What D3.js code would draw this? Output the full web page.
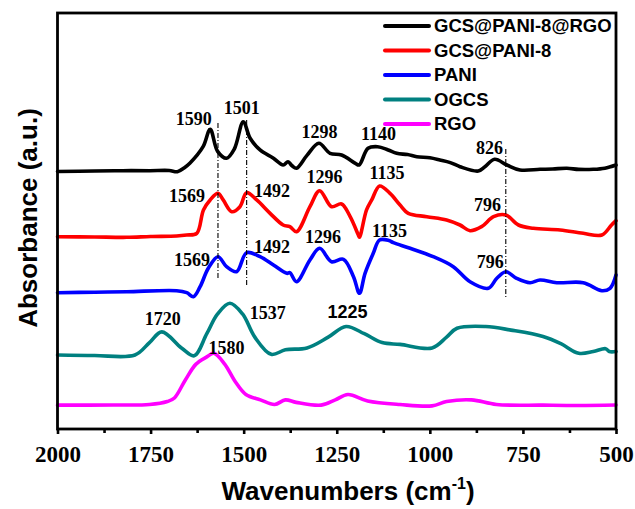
<!DOCTYPE html>
<html>
<head>
<meta charset="utf-8">
<script src="https://cdn.jsdelivr.net/npm/d3@7/dist/d3.min.js"></script>
<style>
  html, body { margin: 0; padding: 0; background: #fff; }
  svg { display: block; }
</style>
</head>
<body>
<svg id="chart" width="635" height="509"></svg>
<script>
// FTIR spectra, stacked with vertical offsets (absorbance in arbitrary units)
const seriesNames = ["GCS@PANI-8@RGO", "GCS@PANI-8", "PANI", "OGCS", "RGO"];
const seriesColors = ["#000000", "#ff0000", "#0000ff", "#008080", "#ff00ff"];

// [wavenumber (cm-1), absorbance (a.u.)]
const gcsPaniRgo = [
  [2000,3.219],[1900,3.225],[1825,3.229],[1752,3.229],[1700,3.231],[1678,3.216],[1660,3.263],
  [1644,3.325],[1609,3.529],[1590,3.746],[1570,3.47],[1546,3.384],[1525,3.5],[1501,3.841],
  [1483,3.638],[1456,3.488],[1421,3.388],[1394,3.3],[1381,3.341],[1370,3.29],[1358,3.259],
  [1330,3.42],[1298,3.571],[1268,3.446],[1237,3.425],[1200,3.321],[1190,3.3],[1166,3.509],
  [1140,3.529],[1112,3.488],[1089,3.446],[1060,3.43],[1035,3.404],[1000,3.39],[973,3.363],
  [945,3.33],[919,3.279],[870,3.225],[852,3.279],[826,3.371],[793,3.3],[758,3.238],
  [704,3.246],[670,3.25],[632,3.259],[600,3.245],[561,3.246],[530,3.26],[500,3.3]
];
const gcsPani = [
  [2000,2.404],[1900,2.4],[1814,2.396],[1750,2.406],[1680,2.413],[1653,2.425],[1626,2.446],
  [1608,2.738],[1590,2.863],[1569,2.946],[1555,2.863],[1532,2.716],[1510,2.779],[1492,2.954],
  [1465,2.863],[1429,2.696],[1394,2.55],[1376,2.529],[1358,2.466],[1322,2.779],[1296,2.979],
  [1264,2.779],[1237,2.813],[1214,2.654],[1192,2.425],[1189,2.396],[1170,2.738],[1156,2.863],
  [1135,3.038],[1107,2.946],[1080,2.8],[1058,2.696],[1008,2.654],[955,2.613],[919,2.55],
  [892,2.479],[861,2.529],[829,2.654],[796,2.675],[762,2.55],[722,2.509],[650,2.488],
  [588,2.446],[538,2.425],[512,2.55],[500,2.604]
];
const pani = [
  [2000,1.704],[1900,1.71],[1814,1.716],[1680,1.729],[1653,1.704],[1635,1.654],[1617,1.779],
  [1595,2.009],[1569,2.154],[1546,2.029],[1519,1.966],[1492,2.204],[1456,2.154],[1420,2.05],
  [1384,1.946],[1376,1.954],[1358,1.841],[1322,2.113],[1296,2.259],[1264,2.091],[1232,2.121],
  [1205,1.904],[1189,1.696],[1174,1.946],[1152,2.196],[1135,2.363],[1110,2.356],[1098,2.329],
  [1053,2.259],[991,2.154],[937,2.029],[892,1.841],[843,1.759],[820,1.884],[796,1.966],
  [767,1.884],[731,1.829],[704,1.863],[659,1.829],[588,1.829],[538,1.729],[516,1.759],[500,1.925]
];
const ogcs = [
  [2000,0.925],[1900,0.919],[1792,0.925],[1753,1.08],[1720,1.214],[1667,1.013],[1633,0.915],
  [1599,1.191],[1570,1.438],[1537,1.571],[1503,1.438],[1470,1.148],[1426,0.933],[1388,0.99],
  [1330,1.013],[1273,1.148],[1225,1.281],[1176,1.191],[1128,1.08],[1080,1.058],[994,1.013],
  [955,1.148],[927,1.259],[850,1.281],[782,1.236],[696,1.156],[648,1.066],[600,0.946],
  [561,0.968],[528,1.004],[518,0.968],[500,0.968]
];
const rgo = [
  [2000,0.298],[1850,0.3],[1753,0.306],[1705,0.343],[1686,0.388],[1657,0.61],[1628,0.811],
  [1599,0.901],[1580,0.946],[1551,0.811],[1522,0.588],[1494,0.431],[1455,0.364],[1417,0.306],
  [1388,0.364],[1359,0.333],[1292,0.298],[1254,0.364],[1220,0.431],[1167,0.351],[1080,0.306],
  [994,0.289],[955,0.343],[888,0.364],[821,0.306],[696,0.298],[600,0.294],[500,0.3]
];
const seriesValues = [gcsPaniRgo, gcsPani, pani, ogcs, rgo];

// Peak annotations: [text, wavenumber at text centre, absorbance at baseline, font]
const peakLabels = [
  ["1590",1634,3.8,"serif"],["1501",1505,3.9375,"serif"],["1298",1296,3.634,"serif"],
  ["1140",1138,3.6125,"serif"],["826",840,3.434,"serif"],
  ["1569",1652,2.841,"serif"],["1492",1424,2.9,"serif"],["1296",1283,3.079,"serif"],
  ["1135",1115,3.125,"serif"],["796",845,2.729,"serif"],
  ["1569",1639,2.041,"serif"],["1492",1424,2.2,"serif"],["1296",1287,2.321,"serif"],
  ["1135",1108,2.404,"serif"],["796",838,2.009,"serif"],
  ["1720",1717,1.304,"serif"],["1537",1435,1.37,"serif"],["1225",1221,1.3925,"sans"],
  ["1580",1546,0.9325,"serif"]
];

// Guide lines through shifted bands: [wavenumber, top absorbance, bottom absorbance]
const guideLines = [[1569,3.825,1.8625],[1492,3.8625,1.8],[796,3.5,1.65]];

const xTicks = [2000,1750,1500,1250,1000,750,500];
const xMinorTicks = [1875,1625,1375,1125,875,625];

const svg = d3.select("#chart");
const plotLeft = 57.5, plotRight = 616, plotTop = 13, plotBottom = 429;

const x = d3.scaleLinear().domain([2000, 500]).range([plotLeft, plotRight]);
const y = d3.scaleLinear().domain([0, 5.2]).range([plotBottom, plotTop]);

const line = d3.line()
  .x(d => x(d[0]))
  .y(d => y(d[1]))
  .curve(d3.curveCatmullRom.alpha(0.5));

// spectra, bottom trace first
const order = [4, 3, 2, 1, 0];
svg.append("g").selectAll("path")
  .data(order)
  .join("path")
  .attr("d", i => line(seriesValues[i]))
  .attr("fill", "none")
  .attr("stroke", i => seriesColors[i])
  .attr("stroke-width", 3.6)
  .attr("stroke-linejoin", "round")
  .attr("stroke-linecap", "round");

// dash-dot guides
svg.append("g").selectAll("line")
  .data(guideLines)
  .join("line")
  .attr("x1", d => x(d[0])).attr("x2", d => x(d[0]))
  .attr("y1", d => y(d[1])).attr("y2", d => y(d[2]))
  .attr("stroke", "#000")
  .attr("stroke-width", 1.1)
  .attr("stroke-dasharray", "5,2,1,2");

// peak labels
svg.append("g").selectAll("text")
  .data(peakLabels)
  .join("text")
  .attr("x", d => x(d[1]))
  .attr("y", d => y(d[2]))
  .attr("text-anchor", "middle")
  .attr("font-family", d => d[3] === "sans" ? "'Liberation Sans', Arial, sans-serif" : "'Liberation Serif', 'Times New Roman', serif")
  .attr("font-weight", "bold")
  .attr("font-size", 18)
  .attr("fill", "#000")
  .text(d => d[0]);

// bottom axis, major and minor ticks
const axisMajor = d3.axisBottom(x).tickValues(xTicks).tickSize(5).tickPadding(12).tickFormat(d3.format("d"));
const gx = svg.append("g").attr("transform", `translate(0,${plotBottom})`).call(axisMajor);
gx.select(".domain").remove();
gx.selectAll(".tick line").attr("stroke", "#000").attr("stroke-width", 2.6);
gx.selectAll(".tick text")
  .attr("font-family", "'Liberation Serif', 'Times New Roman', serif")
  .attr("font-weight", "bold")
  .attr("font-size", 23)
  .attr("fill", "#000");

const axisMinor = d3.axisBottom(x).tickValues(xMinorTicks).tickSize(4).tickFormat("");
const gm = svg.append("g").attr("transform", `translate(0,${plotBottom})`).call(axisMinor);
gm.select(".domain").remove();
gm.selectAll(".tick line").attr("stroke", "#000").attr("stroke-width", 2.6);

// frame
svg.append("rect")
  .attr("x", plotLeft).attr("y", plotTop)
  .attr("width", plotRight - plotLeft).attr("height", plotBottom - plotTop)
  .attr("fill", "none")
  .attr("stroke", "#000")
  .attr("stroke-width", 2.8);

// legend
const legend = svg.append("g").attr("transform", "translate(385,26)");
const rows = legend.selectAll("g")
  .data(seriesNames)
  .join("g")
  .attr("transform", (d, i) => `translate(0,${i * 24.5})`);
rows.append("line")
  .attr("x1", 0).attr("x2", 44).attr("y1", 0).attr("y2", 0)
  .attr("stroke", (d, i) => seriesColors[i])
  .attr("stroke-width", 4)
  .attr("stroke-linecap", "round");
rows.append("text")
  .attr("x", 49).attr("y", 0).attr("dy", "0.35em")
  .attr("font-family", "'Liberation Sans', Arial, sans-serif")
  .attr("font-weight", "bold")
  .attr("font-size", 18.5)
  .attr("fill", "#000")
  .text(d => d);

// axis titles
svg.append("text")
  .attr("transform", "translate(37,218) rotate(-90)")
  .attr("text-anchor", "middle")
  .attr("font-family", "'Liberation Sans', Arial, sans-serif")
  .attr("font-weight", "bold")
  .attr("font-size", 26)
  .attr("fill", "#000")
  .text("Absorbance (a.u.)");

const xt = svg.append("text")
  .attr("x", 348).attr("y", 500)
  .attr("text-anchor", "middle")
  .attr("font-family", "'Liberation Sans', Arial, sans-serif")
  .attr("font-weight", "bold")
  .attr("font-size", 26)
  .attr("fill", "#000");
xt.append("tspan").text("Wavenumbers (cm");
xt.append("tspan").attr("font-size", 16).attr("dy", -11).text("-1");
xt.append("tspan").attr("dy", 11).text(")");
</script>
</body>
</html>
